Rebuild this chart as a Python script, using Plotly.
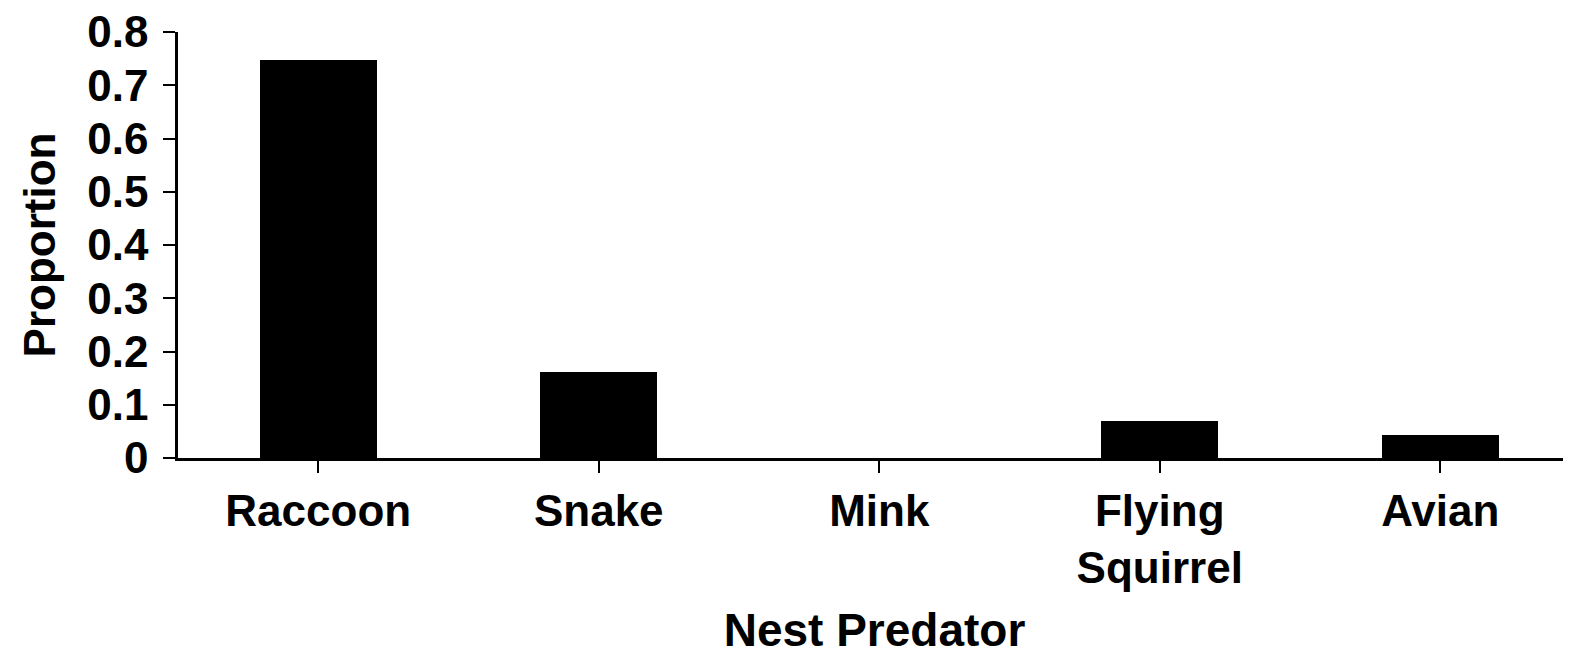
import plotly.graph_objects as go

categories = ["Raccoon", "Snake", "Mink", "Flying<br>Squirrel", "Avian"]
proportions = [0.747, 0.161, 0.0, 0.069, 0.043]
y_ticks = [0, 0.1, 0.2, 0.3, 0.4, 0.5, 0.6, 0.7, 0.8]
y_tick_labels = ["0", "0.1", "0.2", "0.3", "0.4", "0.5", "0.6", "0.7", "0.8"]

# page body has an 8px margin, so the figure is offset by 8px
W, H = 1563, 648
L, R, T, B = 170, 0, 24, 198
cat_px = 280.5
plot_w = W - L - R

fig = go.Figure()
fig.add_trace(go.Bar(
    x=list(range(len(categories))),
    y=proportions,
    width=0.417,
    marker=dict(color="black", line=dict(width=0)),
    showlegend=False,
))

font_family = "Liberation Sans, Arial, sans-serif"
fig.update_layout(
    width=W, height=H,
    margin=dict(l=L, r=R, t=T, b=B, pad=0, autoexpand=False),
    paper_bgcolor="white", plot_bgcolor="white",
    font=dict(family=font_family, color="black", size=44, weight="bold"),
    bargap=0,
)
fig.update_xaxes(
    range=[-0.5, -0.5 + plot_w / cat_px],
    tickmode="array",
    tickvals=list(range(len(categories))),
    ticktext=categories,
    tickson="boundaries",
    ticks="outside", ticklen=12, tickwidth=2, tickcolor="black",
    showline=True, linecolor="black", linewidth=2.5,
    showgrid=False, zeroline=False, automargin=False,
    ticklabeloverflow="allow",
    tickfont=dict(size=44, family=font_family, weight="bold"),
    title=dict(text="Nest Predator", font=dict(size=46, family=font_family, weight="bold"), standoff=30),
)
fig.update_yaxes(
    range=[0, 0.8],
    tickmode="array",
    tickvals=y_ticks,
    ticktext=y_tick_labels,
    ticks="outside", ticklen=12, tickwidth=2, tickcolor="black",
    showline=True, linecolor="black", linewidth=2.5,
    showgrid=False, zeroline=False, automargin=False,
    ticklabelstandoff=6,
    ticklabeloverflow="allow",
    tickfont=dict(size=44, family=font_family, weight="bold"),
    title=dict(text="Proportion", font=dict(size=44, family=font_family, weight="bold"), standoff=18),
)

fig.write_html("out.html")
